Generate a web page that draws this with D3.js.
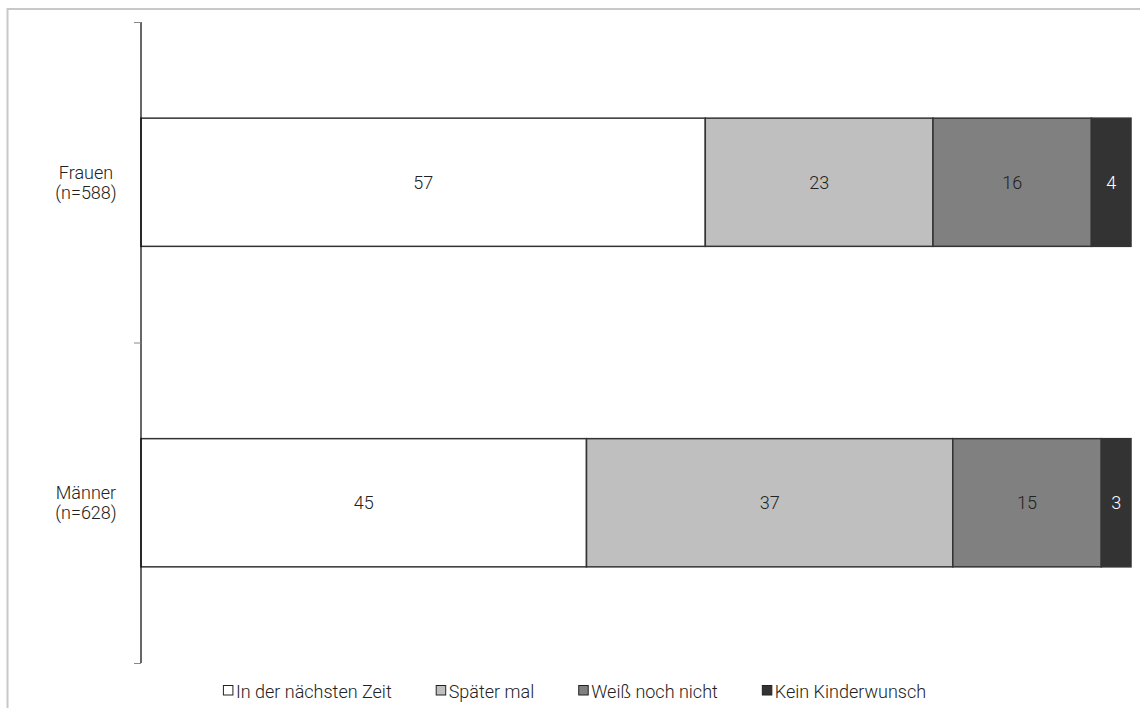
<!DOCTYPE html>
<html>
<head>
<meta charset="utf-8">
<script src="https://cdn.jsdelivr.net/npm/d3@7"></script>
<style>
  html, body { margin: 0; padding: 0; background: #fff; }
  svg { display: block; font-family: Roboto, "Liberation Sans", Arial, sans-serif; font-weight: 300; }
</style>
</head>
<body>
<svg id="chart" width="1140" height="708"></svg>
<script>
const categories = ["Frauen", "Männer"];
const categorySub = ["(n=588)", "(n=628)"];
const seriesNames = ["In der nächsten Zeit", "Später mal", "Weiß noch nicht", "Kein Kinderwunsch"];
const inNaechsterZeit = [57, 45];
const spaeterMal = [23, 37];
const weissNochNicht = [16, 15];
const keinKinderwunsch = [4, 3];
const seriesColors = ["#ffffff", "#bfbfbf", "#808080", "#333333"];
const labelColors = ["#222", "#222", "#222", "#fff"];

const seriesValues = [inNaechsterZeit, spaeterMal, weissNochNicht, keinKinderwunsch];
const rows = categories.map((c, i) => {
  const r = { cat: c };
  seriesNames.forEach((s, j) => r[s] = seriesValues[j][i]);
  return r;
});
const stacked = d3.stack().keys(seriesNames)(rows);

const svg = d3.select("#chart");
const FS = 18;

// outer frame (top and left edges visible)
svg.append("line").attr("x1", 7).attr("x2", 1140).attr("y1", 9).attr("y2", 9)
  .attr("stroke", "#c8c8c8").attr("stroke-width", 2);
svg.append("line").attr("x1", 7.5).attr("x2", 7.5).attr("y1", 8).attr("y2", 708)
  .attr("stroke", "#c8c8c8").attr("stroke-width", 2);

const x = d3.scaleLinear().domain([0, 100]).range([141, 1131]);
const y = d3.scaleBand().domain(categories).range([22, 663]).paddingInner(0.6).paddingOuter(0.3);

// bars
const g = svg.append("g");
stacked.forEach((layer, j) => {
  g.selectAll(null).data(layer).join("rect")
    .attr("x", d => x(d[0]))
    .attr("y", (d, i) => y(categories[i]))
    .attr("width", d => x(d[1]) - x(d[0]))
    .attr("height", y.bandwidth())
    .attr("fill", seriesColors[j])
    .attr("stroke", "#333")
    .attr("stroke-width", 1.5);
  g.selectAll(null).data(layer).join("text")
    .attr("x", d => (x(d[0]) + x(d[1])) / 2)
    .attr("y", (d, i) => y(categories[i]) + y.bandwidth() / 2)
    .attr("text-anchor", "middle")
    .attr("dominant-baseline", "central")
    .attr("font-size", FS)
    .attr("fill", labelColors[j])
    .text(d => d[1] - d[0]);
});

// y axis
const step = y.step();
const r0 = y.range()[0];
const boundaries = d3.range(categories.length + 1).map(i => r0 + i * step);
svg.append("line").attr("x1", 141).attr("x2", 141)
  .attr("y1", boundaries[0]).attr("y2", boundaries[boundaries.length - 1])
  .attr("stroke", "#000").attr("stroke-width", 1.2);
svg.selectAll(null).data(boundaries).join("line")
  .attr("x1", 134).attr("x2", 141)
  .attr("y1", d => d + 0.5).attr("y2", d => d + 0.5)
  .attr("stroke", "#888").attr("stroke-width", 1);

// category labels
categories.forEach((c, i) => {
  const cy = y(c) + y.bandwidth() / 2;
  const t = svg.append("text").attr("x", 86).attr("text-anchor", "middle")
    .attr("font-size", FS).attr("fill", "#222");
  t.append("tspan").attr("x", 86).attr("y", cy - 10).attr("dominant-baseline", "central").text(c);
  t.append("tspan").attr("x", 86).attr("y", cy + 10).attr("dominant-baseline", "central").text(categorySub[i]);
});

// legend
const legend = svg.append("g");
let lx = 0;
const GAP = 44;
seriesNames.forEach((s, j) => {
  const it = legend.append("g").attr("transform", `translate(${lx},0)`);
  it.append("rect").attr("x", 0.5).attr("y", -5.5).attr("width", 9.5).attr("height", 9.5)
    .attr("fill", seriesColors[j]).attr("stroke", "#222").attr("stroke-width", 1);
  const tx = it.append("text").attr("x", 13).attr("y", 0).attr("dominant-baseline", "central")
    .attr("font-size", FS).attr("fill", "#222").text(s);
  const w = tx.node().getComputedTextLength();
  lx += 13 + w + GAP;
});
const totalW = lx - GAP;
legend.attr("transform", `translate(${574.5 - totalW / 2},691)`);
</script>
</body>
</html>
